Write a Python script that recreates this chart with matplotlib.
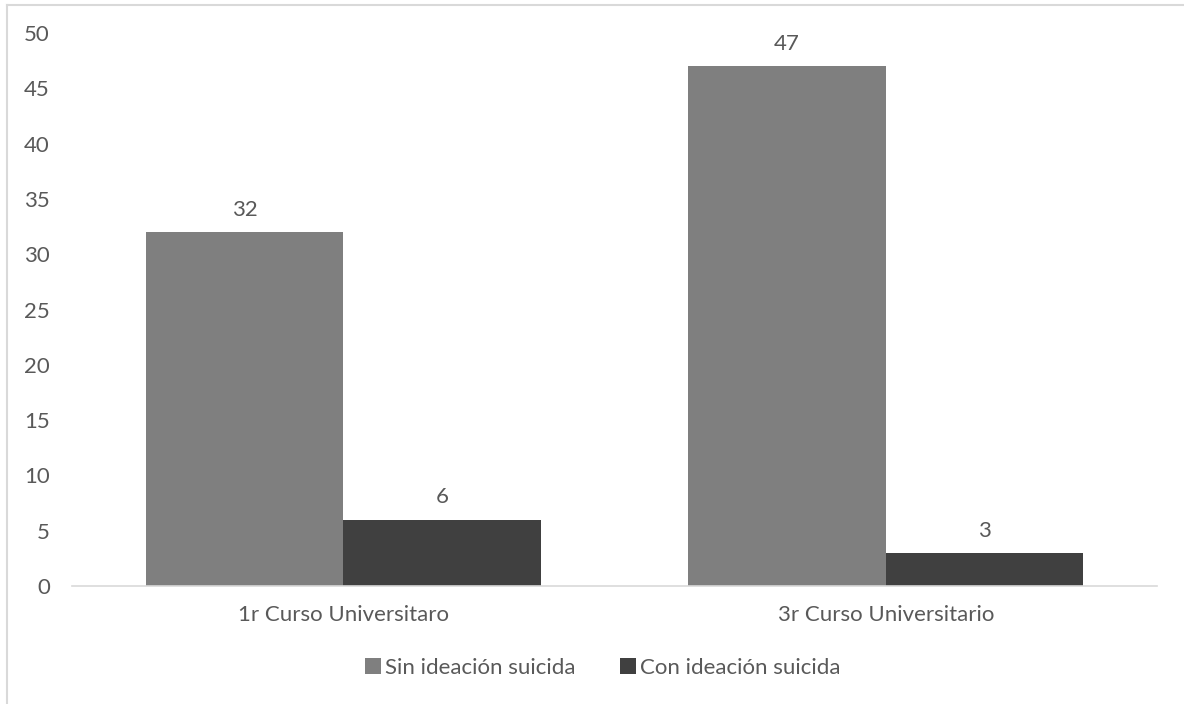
import numpy as np
import matplotlib

matplotlib.use("Agg")
import matplotlib.pyplot as plt
from matplotlib.lines import Line2D

categories = ["1r Curso Universitaro", "3r Curso Universitario"]
series_names = ["Sin ideación suicida", "Con ideación suicida"]
sin_ideacion = [32, 47]
con_ideacion = [6, 3]
y_ticks = [0, 5, 10, 15, 20, 25, 30, 35, 40, 45, 50]

TEXT = "#595959"
COLORS = ["#7f7f7f", "#404040"]

plt.rcParams["font.family"] = ["Lato", "DejaVu Sans"]

W, H = 1184, 704
fig = plt.figure(figsize=(W / 100, H / 100), dpi=100)
ax = fig.add_axes([72 / W, 1 - 586 / H, (1157 - 72) / W, (586 - 33) / H])

x = np.arange(len(categories))
bw = 0.364
for i, (vals, name) in enumerate(zip((sin_ideacion, con_ideacion), series_names)):
    pos = x + (i - 0.5) * bw
    bars = ax.bar(pos, vals, width=bw, color=COLORS[i], label=name, zorder=2)
    for b, v in zip(bars, vals):
        ax.text(b.get_x() + b.get_width() / 2, v + 1.1, str(v),
                ha="center", va="bottom", fontsize=16, color=TEXT)

ax.set_xlim(-0.5, 1.5)
ax.set_ylim(0, 50)
ax.set_yticks(y_ticks)
ax.set_xticks(x)
ax.set_xticklabels(categories)
ax.tick_params(axis="both", length=0, labelsize=16, colors=TEXT)
ax.tick_params(axis="y", pad=16)
ax.tick_params(axis="x", pad=14)
for s in ("top", "right", "left"):
    ax.spines[s].set_visible(False)
ax.spines["bottom"].set_color("#d9d9d9")
ax.spines["bottom"].set_linewidth(1.2)
ax.spines["bottom"].set_zorder(3)

leg = fig.legend(loc="center", bbox_to_anchor=(603 / W, 1 - 668 / H), ncol=2,
                 frameon=False, fontsize=16, handlelength=0.7, handleheight=0.7,
                 handletextpad=0.2, columnspacing=2.0)
for t in leg.get_texts():
    t.set_color(TEXT)

# chart area border (left and top edges visible)
fig.add_artist(Line2D([7 / W, 7 / W], [0, 1 - 5 / H], color="#d9d9d9", lw=1.5))
fig.add_artist(Line2D([7 / W, 1], [1 - 5 / H, 1 - 5 / H], color="#d9d9d9", lw=1.5))

fig.savefig("out.png", dpi=100)
